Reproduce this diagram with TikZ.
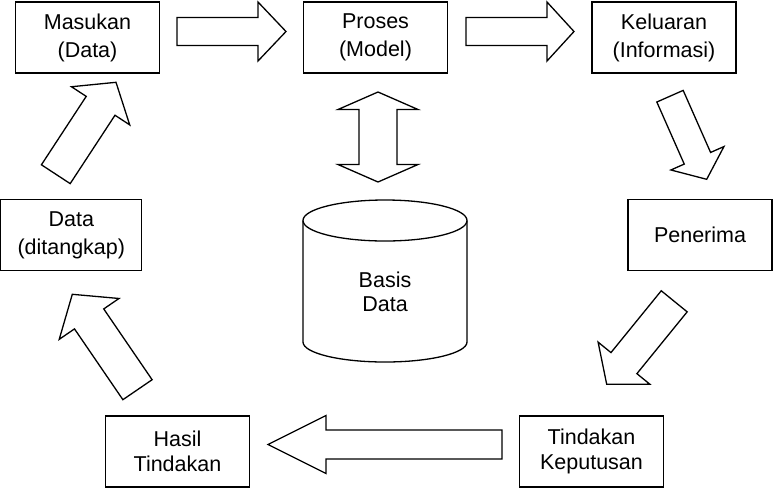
\documentclass[tikz,border=0pt]{standalone}
\usepackage{fontspec}
\setmainfont{Liberation Sans}
\usetikzlibrary{calc}

\tikzstyle{box} = [draw, line width=1.3pt, rectangle, minimum width=144pt, minimum height=71pt, inner sep=0pt, align=center, font=\fontsize{21.5}{24.5}\selectfont]
\tikzstyle{blk} = [draw, line width=1.3pt, line join=miter, fill=white]

% block arrow: tail, tip, shaft half width, head half width, head length
\newcommand{\blockarrow}[5]{%
  \coordinate (hb) at ($(#2)!#5pt!(#1)$);
  \draw[blk] ($(#1)!#3pt!90:(#2)$) -- ($(hb)!#3pt!90:(#2)$) -- ($(hb)!#4pt!90:(#2)$) -- (#2)
    -- ($(hb)!#4pt!-90:(#2)$) -- ($(hb)!#3pt!-90:(#2)$) -- ($(#1)!#3pt!-90:(#2)$) -- cycle;
}
% double block arrow: end, end, shaft half width, head half width, head length
\newcommand{\dblarrow}[5]{%
  \coordinate (ha) at ($(#1)!#5pt!(#2)$);
  \coordinate (hb) at ($(#2)!#5pt!(#1)$);
  \draw[blk] (#1) -- ($(ha)!#4pt!90:(#2)$) -- ($(ha)!#3pt!90:(#2)$) -- ($(hb)!#3pt!90:(#2)$)
    -- ($(hb)!#4pt!90:(#2)$) -- (#2) -- ($(hb)!#4pt!-90:(#2)$) -- ($(hb)!#3pt!-90:(#2)$)
    -- ($(ha)!#3pt!-90:(#2)$) -- ($(ha)!#4pt!-90:(#2)$) -- cycle;
}

\begin{document}
\begin{tikzpicture}[x=1pt,y=-1pt]
		\useasboundingbox (0,0) rectangle (778,496);
		
		%boxes
		\node[box] (masukan) at (87.5,37.5) {Masukan\\[3.5pt](Data)};
		\node[box] (proses) at (375.5,37.5) {Proses\\[3.5pt](Model)};
		\node[box] (keluaran) at (664,37.5) {Keluaran\\[3.5pt](Informasi)};
		\node[box] (penerima) at (700,235) {Penerima};
		\node[box] (keputusan) at (591.5,451.5) {Tindakan\\Keputusan};
		\node[box] (hasil) at (177.5,451.5) {Hasil\\Tindakan};
		\node[box, minimum width=141pt] (ditangkap) at (71.3,235) {Data\\[3.5pt](ditangkap)};
		
		%database
		\draw[blk] (303,220.5) -- (303,342) arc[start angle=180, end angle=0, x radius=82, y radius=20] -- (467,220.5);
		\draw[blk] (385,220.5) ellipse [x radius=82, y radius=20.5];
		\node[align=center, font=\fontsize{21.5}{24.5}\selectfont] (basis) at (385,292) {Basis\\Data};
		
		%arrow ends
		\coordinate (a1t) at (177,31.5);   \coordinate (a1h) at (286,31.5);
		\coordinate (a2t) at (466,31.5);   \coordinate (a2h) at (574,31.5);
		\coordinate (a3t) at (670,96.2);   \coordinate (a3h) at (706.7,179.3);
		\coordinate (a4t) at (674.2,301.3); \coordinate (a4h) at (606.7,384.3);
		\coordinate (a5t) at (502,444.5);  \coordinate (a5h) at (268,444.5);
		\coordinate (a6t) at (137.5,389.7); \coordinate (a6h) at (72.3,294.3);
		\coordinate (a7t) at (55.8,174.2); \coordinate (a7h) at (116,82.3);
		\coordinate (dbt) at (378,92);     \coordinate (dbb) at (378,182);
		
		%arrows
		\blockarrow{a1t}{a1h}{14}{29.5}{28}
		\blockarrow{a2t}{a2h}{14}{29.5}{27}
		\blockarrow{a3t}{a3h}{14.4}{29}{23}
		\blockarrow{a4t}{a4h}{16.7}{33.3}{27.3}
		\blockarrow{a5t}{a5h}{14.5}{29}{58}
		\blockarrow{a6t}{a6h}{17.7}{36.2}{29.8}
		\blockarrow{a7t}{a7h}{17.2}{34.8}{28.1}
		\dblarrow{dbt}{dbb}{19}{40}{17.5}
\end{tikzpicture}
\end{document}
